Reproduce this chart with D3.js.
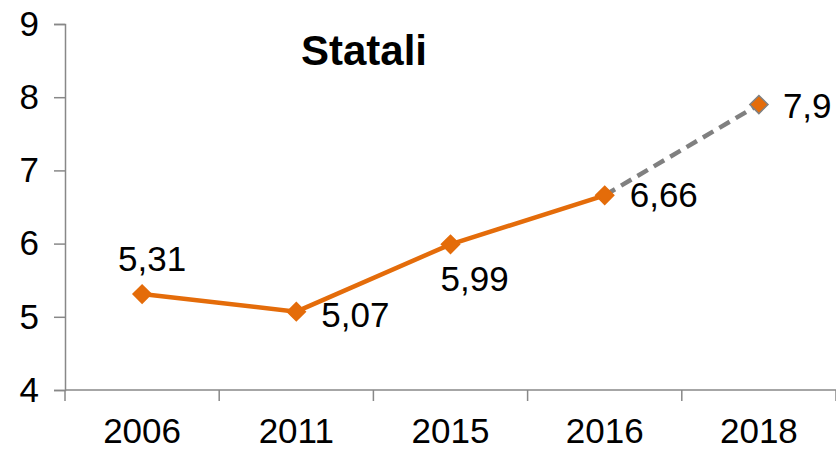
<!DOCTYPE html>
<html>
<head>
<meta charset="utf-8">
<script src="https://cdn.jsdelivr.net/npm/d3@7"></script>
<style>
  body { margin: 0; background: #fff; }
  text { font-family: "Liberation Sans", Arial, sans-serif; }
</style>
</head>
<body>
<script>
var width = 836, height = 450;

// data
var years = ["2006", "2011", "2015", "2016", "2018"];
var values = [5.31, 5.07, 5.99, 6.66, 7.9];
var valueLabels = ["5,31", "5,07", "5,99", "6,66", "7,9"];
var yTicks = [4, 5, 6, 7, 8, 9];
var title = "Statali";

var margin = {top: 24, left: 65, right: 0, bottom: 60};

var svg = d3.select("body").append("svg")
  .attr("width", width)
  .attr("height", height);

var x = d3.scaleBand()
  .domain(years)
  .range([margin.left, width - margin.right]);

var y = d3.scaleLinear()
  .domain([4, 9])
  .range([390, margin.top]);

// y axis
var yAxis = svg.append("g")
  .attr("transform", "translate(" + margin.left + ",0)")
  .call(d3.axisLeft(y).tickValues(yTicks).tickFormat(d3.format("d")).tickSize(11).tickPadding(15));
yAxis.select(".domain").attr("stroke", "#888").attr("stroke-width", 1.5);
yAxis.selectAll(".tick line").attr("stroke", "#888").attr("stroke-width", 1.5);
yAxis.selectAll(".tick text").attr("font-size", 35).attr("fill", "#000")
  .attr("font-family", "Liberation Sans, Arial, sans-serif");

// x axis, ticks between categories
var xAxisG = svg.append("g").attr("transform", "translate(0,390)");
xAxisG.append("line")
  .attr("x1", margin.left).attr("x2", width)
  .attr("stroke", "#888").attr("stroke-width", 1.5);
var bounds = years.map(function(d) { return x(d); }).concat([x(years[years.length - 1]) + x.bandwidth()]);
xAxisG.selectAll(".xt").data(bounds).enter().append("line")
  .attr("x1", function(d) { return d; }).attr("x2", function(d) { return d; })
  .attr("y1", 0).attr("y2", 11)
  .attr("stroke", "#888").attr("stroke-width", 1.5);
xAxisG.selectAll(".xl").data(years).enter().append("text")
  .attr("x", function(d) { return x(d) + x.bandwidth() / 2; })
  .attr("y", 53)
  .attr("text-anchor", "middle")
  .attr("font-size", 35)
  .text(function(d) { return d; });

var cx = function(i) { return x(years[i]) + x.bandwidth() / 2; };

// solid orange part
var line = d3.line()
  .x(function(d, i) { return cx(i); })
  .y(function(d) { return y(d); });
svg.append("path")
  .datum(values.slice(0, 4))
  .attr("d", line)
  .attr("fill", "none")
  .attr("stroke", "#E46C0A")
  .attr("stroke-width", 4.5);

// dashed forecast segment
svg.append("line")
  .attr("x1", cx(3)).attr("y1", y(values[3]))
  .attr("x2", cx(4)).attr("y2", y(values[4]))
  .attr("stroke", "#808080")
  .attr("stroke-width", 4.5)
  .attr("stroke-dasharray", "12,7");

// diamonds
var diamond = d3.symbol().type(d3.symbolDiamond2).size(210);
svg.selectAll(".pt").data(values).enter().append("path")
  .attr("d", diamond)
  .attr("transform", function(d, i) { return "translate(" + cx(i) + "," + y(d) + ")"; })
  .attr("fill", "#E46C0A")
  .attr("stroke", function(d, i) { return i == 4 ? "#808080" : "#E46C0A"; })
  .attr("stroke-width", 1.5);

// value labels
var offs = [[-24, -23], [25, 15], [-10, 47], [25, 12], [24, 13]];
svg.selectAll(".vl").data(values).enter().append("text")
  .attr("x", function(d, i) { return cx(i) + offs[i][0]; })
  .attr("y", function(d, i) { return y(d) + offs[i][1]; })
  .attr("font-size", 35)
  .text(function(d, i) { return valueLabels[i]; });

// title
svg.append("text")
  .attr("x", 364).attr("y", 65)
  .attr("text-anchor", "middle")
  .attr("font-size", 42)
  .attr("font-weight", "bold")
  .text(title);
</script>
</body>
</html>
